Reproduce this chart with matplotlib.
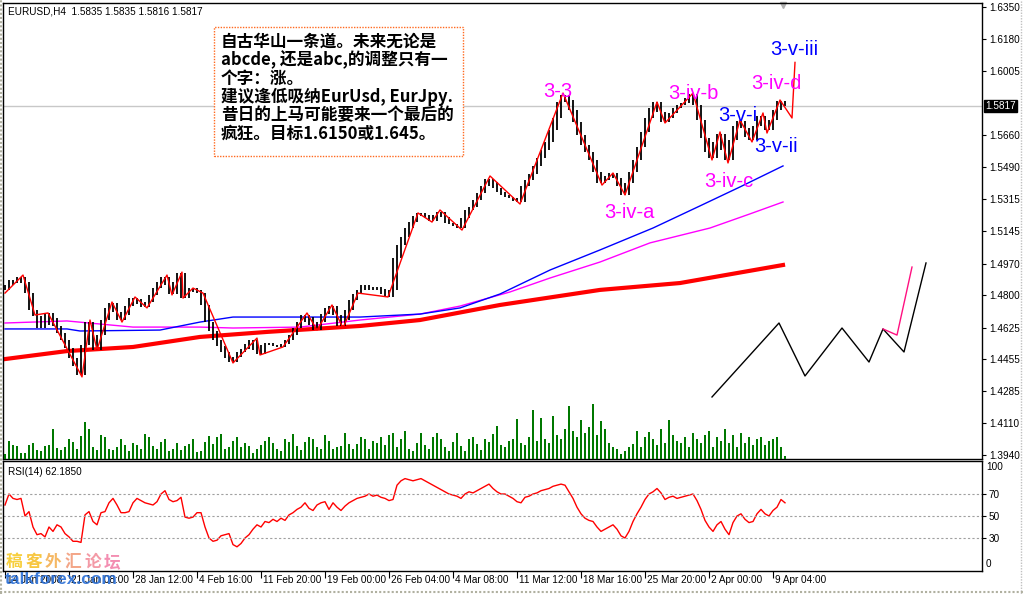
import numpy as np
import matplotlib
matplotlib.use("Agg")
import matplotlib.pyplot as plt
from matplotlib.patches import Rectangle
from matplotlib.lines import Line2D

# -----------------------------------------------------------------------
# Datos (EURUSD H4)
# -----------------------------------------------------------------------

CLOSES = [
    1.4828, 1.4854, 1.4881, 1.4865, 1.4897, 1.4870, 1.4811, 1.4720, 1.4688, 1.4623,
    1.4639, 1.4704, 1.4677, 1.4634, 1.4596, 1.4558, 1.4515, 1.4462, 1.4419, 1.4370,
    1.4532, 1.4655, 1.4585, 1.4505, 1.4585, 1.4666, 1.4731, 1.4758, 1.4709, 1.4666,
    1.4693, 1.4741, 1.4784, 1.4779, 1.4752, 1.4736, 1.4763, 1.4801, 1.4838, 1.4870,
    1.4897, 1.4854, 1.4806, 1.4870, 1.4919, 1.4784, 1.4817, 1.4838, 1.4828, 1.4811,
    1.4747, 1.4655, 1.4607, 1.4558, 1.4526, 1.4494, 1.4462, 1.4440, 1.4467, 1.4494,
    1.4510, 1.4537, 1.4558, 1.4505, 1.4483, 1.4532, 1.4542, 1.4532, 1.4526, 1.4521,
    1.4537, 1.4558, 1.4585, 1.4623, 1.4655, 1.4693, 1.4682, 1.4639, 1.4612, 1.4655,
    1.4698, 1.4731, 1.4741, 1.4693, 1.4634, 1.4666, 1.4720, 1.4774, 1.4806, 1.4828,
    1.4854, 1.4838, 1.4828, 1.4844, 1.4833, 1.4806, 1.4790, 1.4828, 1.5000, 1.5070,
    1.5113, 1.5161, 1.5193, 1.5226, 1.5242, 1.5231, 1.5215, 1.5199, 1.5231, 1.5247,
    1.5220, 1.5188, 1.5183, 1.5172, 1.5161, 1.5215, 1.5258, 1.5274, 1.5312, 1.5349,
    1.5387, 1.5425, 1.5409, 1.5376, 1.5355, 1.5339, 1.5328, 1.5322, 1.5306, 1.5301,
    1.5387, 1.5419, 1.5452, 1.5495, 1.5538, 1.5581, 1.5624, 1.5688, 1.5753, 1.5839,
    1.5877, 1.5850, 1.5796, 1.5731, 1.5661, 1.5608, 1.5570, 1.5527, 1.5462, 1.5403,
    1.5419, 1.5441, 1.5457, 1.5430, 1.5387, 1.5339, 1.5403, 1.5462, 1.5527, 1.5597,
    1.5678, 1.5753, 1.5807, 1.5839, 1.5785, 1.5731, 1.5753, 1.5780, 1.5807, 1.5823,
    1.5834, 1.5860, 1.5882, 1.5823, 1.5742, 1.5645, 1.5570, 1.5538, 1.5624, 1.5667,
    1.5581, 1.5527, 1.5634, 1.5710, 1.5737, 1.5699, 1.5651, 1.5634, 1.5710, 1.5764,
    1.5715, 1.5688, 1.5742, 1.5796, 1.5844, 1.5817,
]

VOLUME = [
    5, 18, 14, 13, 6, 6, 14, 16, 9, 8,
    13, 14, 30, 11, 9, 12, 20, 17, 10, 23,
    37, 30, 12, 9, 24, 22, 10, 9, 12, 20,
    14, 8, 16, 14, 10, 25, 22, 13, 10, 17,
    20, 8, 10, 16, 9, 13, 15, 20, 7, 8,
    17, 23, 15, 22, 25, 10, 12, 18, 22, 12,
    16, 13, 6, 10, 14, 18, 22, 16, 10, 8,
    20, 17, 25, 13, 9, 17, 22, 20, 12, 10,
    24, 18, 10, 12, 13, 26, 15, 10, 15, 22,
    20, 10, 18, 16, 22, 14, 24, 26, 12, 20,
    28, 10, 8, 16, 26, 14, 10, 22, 26, 20,
    12, 8, 17, 26, 13, 8, 20, 22, 15, 9,
    20, 17, 25, 33, 14, 12, 18, 20, 40, 16,
    14, 22, 49, 18, 41, 20, 16, 43, 24, 20,
    30, 53, 28, 22, 39, 26, 32, 55, 24, 38,
    30, 16, 12, 10, 5, 8, 12, 15, 28, 12,
    22, 27, 20, 14, 30, 16, 39, 24, 18, 16,
    22, 12, 26, 20, 16, 24, 28, 12, 22, 18,
    30, 16, 24, 12, 26, 16, 22, 14, 20, 22,
    14, 18, 20, 22, 12, 3,
]

RSI = [
    60, 70, 66, 65, 66, 50, 54, 40, 33, 34,
    31, 40, 36, 42, 40, 34, 31, 27, 27, 26,
    51, 54, 45, 42, 53, 54, 62, 66, 60, 53,
    53, 54, 62, 66, 64, 62, 61, 60, 63, 70,
    73, 65, 63, 64, 67, 49, 48, 49, 53, 53,
    40, 30, 27, 28, 32, 33, 34, 24, 22, 25,
    30, 33, 38, 42, 40, 45, 44, 47, 45, 48,
    46, 51, 53, 56, 58, 62, 57, 55, 60, 62,
    63, 56, 62, 58, 55, 59, 62, 64, 66, 67,
    68, 70, 68, 69, 67, 66, 64, 65, 78, 82,
    84, 83, 82, 83, 84, 82, 80, 78, 76, 74,
    72, 70, 69, 68, 66, 70, 72, 71, 73, 75,
    77, 79, 75, 72, 70, 70, 68, 66, 63, 62,
    67, 68, 70, 71, 73, 74, 75, 77, 78, 79,
    78, 72, 66, 58, 52, 48, 46, 45, 40, 36,
    38, 40, 42, 38, 32, 30, 36, 45, 52, 58,
    65, 70, 72, 75, 71, 65, 67, 68, 66, 67,
    68, 69, 70, 64, 56, 46, 40, 36, 42, 45,
    38, 33, 44, 50, 52, 47, 44, 45, 52, 56,
    52, 50, 55, 58, 65, 62,
]

# zigzag (barra, precio)
ZIGZAG_IDX = [0, 4.5, 7.5, 10.75, 19.25, 21.25, 23, 26.75, 29.25, 32.5, 35.5,
              40.5, 41.75, 44.25, 44.5, 47, 49.5, 57, 63, 63.75, 69.5, 75.5,
              78, 81.75, 84.5, 88.25, 95.75, 103.25, 106.75, 108.75, 114.25,
              121.25, 128.75, 139.5, 149.25, 152, 155, 163, 165, 172, 176.75,
              178.75, 180.75, 183.75, 186.75, 189.5, 190.5, 193.75, 196.75, 197.5]
ZIGZAG_PRICE = [1.4811, 1.4908, 1.4693, 1.4704, 1.4360, 1.4666, 1.4505, 1.4763,
                1.4655, 1.4790, 1.4731, 1.4908, 1.4801, 1.4924, 1.4784, 1.4838,
                1.4811, 1.4435, 1.4569, 1.4478, 1.4521, 1.4704, 1.4612, 1.4747,
                1.4623, 1.4811, 1.4790, 1.5242, 1.5193, 1.5258, 1.5150, 1.5441,
                1.5290, 1.5887, 1.5392, 1.5457, 1.5339, 1.5839, 1.5726, 1.5887,
                1.5527, 1.5678, 1.5511, 1.5742, 1.5624, 1.5780, 1.5672, 1.5850,
                1.5753, 1.6052]

MA_BLUE_IDX = [0, 15.5, 18.75, 38.75, 48.75, 57, 73.75, 88.75, 103.75, 113.75,
               123.75, 136.25, 148.75, 162, 173.75, 183.75, 194.5]
MA_BLUE = [1.4618, 1.4618, 1.4607, 1.4612, 1.4655, 1.4682, 1.4682, 1.4682, 1.4698,
           1.4731, 1.4806, 1.4935, 1.5043, 1.5161, 1.5280, 1.5382, 1.5495]

MA_MAG_IDX = [0, 15.5, 32, 48.75, 57, 73.75, 88.75, 103.75, 113.75, 126.25,
              136.25, 148.75, 161.25, 176.25, 186.25, 194.5]
MA_MAG = [1.4650, 1.4661, 1.4628, 1.4628, 1.4623, 1.4628, 1.4666, 1.4698, 1.4741,
          1.4817, 1.4892, 1.4978, 1.5081, 1.5161, 1.5237, 1.5301]

MA_RED_IDX = [0, 15.5, 32, 48.75, 65.5, 88.75, 103.75, 123.75, 148.75, 168.75, 194.5]
MA_RED = [1.4456, 1.4499, 1.4521, 1.4575, 1.4602, 1.4634, 1.4666, 1.4747, 1.4828,
          1.4865, 1.4962]

PROJ_IDX = [176.75, 193.5, 200, 209.25, 216, 219.5, 224.75, 230.25]
PROJ_PRICE = [1.4252, 1.4650, 1.4365, 1.4623, 1.4440, 1.4618, 1.4494, 1.4973]
PROJ2_IDX = [219.5, 223, 226.75]
PROJ2_PRICE = [1.4618, 1.4585, 1.4951]

WAVES = [("3-3", 138.25, 1.5898, "#ff00ff"),
         ("3-iv-b", 172, 1.5887, "#ff00ff"),
         ("3-v-i", 183.25, 1.5769, "#0000ff"),
         ("3-iv-d", 192.75, 1.5936, "#ff00ff"),
         ("3-v-iii", 197.25, 1.6119, "#0000ff"),
         ("3-v-ii", 192.75, 1.5597, "#0000ff"),
         ("3-iv-c", 181, 1.5409, "#ff00ff"),
         ("3-iv-a", 156, 1.5247, "#ff00ff")]

PRICE_TICKS = [1.6350, 1.6180, 1.6005, 1.5660, 1.5490, 1.5315, 1.5145, 1.4970,
               1.4800, 1.4625, 1.4455, 1.4285, 1.4110, 1.3940]
LAST_PRICE = 1.5817
RSI_LEVELS = [70, 50, 30]

DATE_IDX = [0, 16, 32, 48, 64, 80, 96, 112, 128, 144, 160, 176, 192]
DATE_LABELS = ["14 Jan 2008", "21 Jan 08:00", "28 Jan 12:00", "4 Feb 16:00",
               "11 Feb 20:00", "19 Feb 00:00", "26 Feb 04:00", "4 Mar 08:00",
               "11 Mar 12:00", "18 Mar 16:00", "25 Mar 20:00", "2 Apr 00:00",
               "9 Apr 04:00"]

NOTE_LINES = ["自古华山一条道。未来无论是",
              "abcde, 还是abc,的调整只有一",
              "个字：涨。",
              "建议逢低吸纳EurUsd, EurJpy.",
              "昔日的上马可能要来一个最后的",
              "疯狂。目标1.6150或1.645。"]

# -----------------------------------------------------------------------
# Figura
# -----------------------------------------------------------------------

W, H = 1023, 594
plt.rcParams["font.family"] = ["Liberation Sans", "DejaVu Sans"]
CJK = ["Noto Sans CJK SC", "DejaVu Sans"]


def fx(px):
    return px / W


def fy(py):
    return 1 - py / H


fig = plt.figure(figsize=(W / 100, H / 100), dpi=100)
fig.patch.set_facecolor("white")

ax = fig.add_axes([fx(3), fy(459), (982 - 3) / W, (459 - 3) / H])
ax_rsi = fig.add_axes([fx(3), fy(571), (982 - 3) / W, (571 - 461) / H])
XLIM = (-0.5, 244.25)

# volumen al fondo del panel principal
axv = ax.twinx()
axv.bar(np.arange(len(VOLUME)), VOLUME, width=0.45, color="#007800", zorder=1)
axv.set_ylim(0, 456)
axv.axis("off")
axv.set_xlim(*XLIM)

# barras: cada barra cubre apertura, cierre y el cierre siguiente
closes = np.array(CLOSES)
x = np.arange(len(closes))
opens = np.r_[closes[0], closes[:-1]]
nexts = np.r_[closes[1:], closes[-1]]
bar_lo = np.minimum(np.minimum(opens, closes), nexts)
bar_hi = np.maximum(np.maximum(opens, closes), nexts)

ax.axhline(LAST_PRICE, color="#c8c8c8", lw=1, zorder=1)
ax.plot(MA_RED_IDX, MA_RED, color="#ff0000", lw=3, zorder=2)
ax.plot(MA_MAG_IDX, MA_MAG, color="#ff00ff", lw=1, zorder=2)
ax.plot(MA_BLUE_IDX, MA_BLUE, color="#0000ff", lw=1, zorder=2)
ax.vlines(x, bar_lo, bar_hi, color="black", lw=1.3, zorder=3)
ax.plot(ZIGZAG_IDX, ZIGZAG_PRICE, color="#ff0000", lw=1, zorder=4)
ax.plot(PROJ_IDX, PROJ_PRICE, color="black", lw=1, zorder=4)
ax.plot(PROJ2_IDX, PROJ2_PRICE, color="#ff1080", lw=1, zorder=4)

for label, xi, yp, col in WAVES:
    ax.text(xi, yp, label, color=col, fontsize=14.5, ha="center", va="center", zorder=6)

ax.set_xlim(*XLIM)
ax.set_ylim(1.39183, 1.63716)
ax.set_xticks([])
ax.yaxis.tick_right()
ax.set_yticks(PRICE_TICKS)
ax.set_yticklabels([f"{p:.4f}" for p in PRICE_TICKS])
ax.tick_params(axis="y", labelsize=7.2, length=3, pad=2, width=0.8)
ax.text(1.003, LAST_PRICE, f"{LAST_PRICE:.4f}", transform=ax.get_yaxis_transform(),
        color="white", fontsize=7.2, ha="left", va="center", zorder=10,
        bbox=dict(facecolor="black", edgecolor="black", pad=1.0), clip_on=False)
ax.plot([0.797], [0.995], transform=ax.transAxes, marker="v", color="#b0b0b0",
        markersize=5, clip_on=False)

# RSI
ax_rsi.plot(np.arange(len(RSI)), RSI, color="#ff0000", lw=1)
for lv in RSI_LEVELS:
    ax_rsi.axhline(lv, color="#a0a0a0", lw=0.8, ls=(0, (2, 2)))
ax_rsi.set_xlim(*XLIM)
ax_rsi.set_ylim(0, 100)
ax_rsi.yaxis.tick_right()
ax_rsi.set_yticks(RSI_LEVELS)
ax_rsi.set_yticklabels([str(v) for v in RSI_LEVELS])
ax_rsi.tick_params(axis="y", labelsize=7.2, length=3, pad=2, width=0.8)
ax_rsi.text(1.004, 0.95, "100", transform=ax_rsi.transAxes, fontsize=7.2, va="center")
ax_rsi.text(1.004, 0.06, "0", transform=ax_rsi.transAxes, fontsize=7.2, va="center")
ax_rsi.set_xticks(DATE_IDX)
ax_rsi.tick_params(axis="x", length=5, width=0.8, labelbottom=False)
for xi, lab in zip(DATE_IDX, DATE_LABELS):
    ax_rsi.text(xi + 0.6, -0.085, lab, transform=ax_rsi.get_xaxis_transform(),
                fontsize=7.2, ha="left", va="center", clip_on=False)
ax_rsi.text(0.005, 0.9, "RSI(14) 62.1850", transform=ax_rsi.transAxes,
            fontsize=7.2, ha="left", va="center")

for a in (ax, ax_rsi):
    for s in a.spines.values():
        s.set_linewidth(1)
        s.set_color("black")

fig.text(fx(8), fy(12), "EURUSD,H4  1.5835 1.5835 1.5816 1.5817", fontsize=7.2,
         ha="left", va="center")

# cuadro de comentario
fig.patches.append(Rectangle((fx(214), fy(156)), (463 - 214) / W, (156 - 27) / H,
                             transform=fig.transFigure, facecolor="white",
                             edgecolor="#ff6a20", lw=1, ls=(0, (1, 1)), zorder=5))
for k, line in enumerate(NOTE_LINES):
    fig.text(fx(221), fy(42 + 18.3 * k), line, family=CJK, fontsize=12,
             fontweight="bold", ha="left", va="center", zorder=6)

# marca de agua
WM_COLORS = ["#f5c000", "#f5b400", "#f2a030", "#f08860", "#f07888", "#f06898"]
for k, ch in enumerate("稿客外汇论坛"):
    fig.text(fx(6 + 19.5 * k), fy(562), ch, family=CJK, fontsize=12, fontweight="bold",
             color=WM_COLORS[k], alpha=0.75, ha="left", va="center", zorder=8)
fig.text(fx(5), fy(580), "talkforex.com", fontsize=12.5, fontweight="bold",
         color="#2a6fd6", alpha=0.9, ha="left", va="center", zorder=8)

# marco de ventana
fig.lines.append(Line2D([fx(1), fx(1)], [0, 1], transform=fig.transFigure,
                        color="#b0b0a0", lw=1.5, ls=(0, (1, 1))))
fig.lines.append(Line2D([fx(1021), fx(1021)], [0, 1], transform=fig.transFigure,
                        color="#c0c0c0", lw=1, ls=(0, (1, 1))))
fig.lines.append(Line2D([0, 1], [fy(592), fy(592)], transform=fig.transFigure,
                        color="#b0b0a0", lw=1.5, ls=(0, (1, 1))))

fig.savefig("out.png", dpi=100)
